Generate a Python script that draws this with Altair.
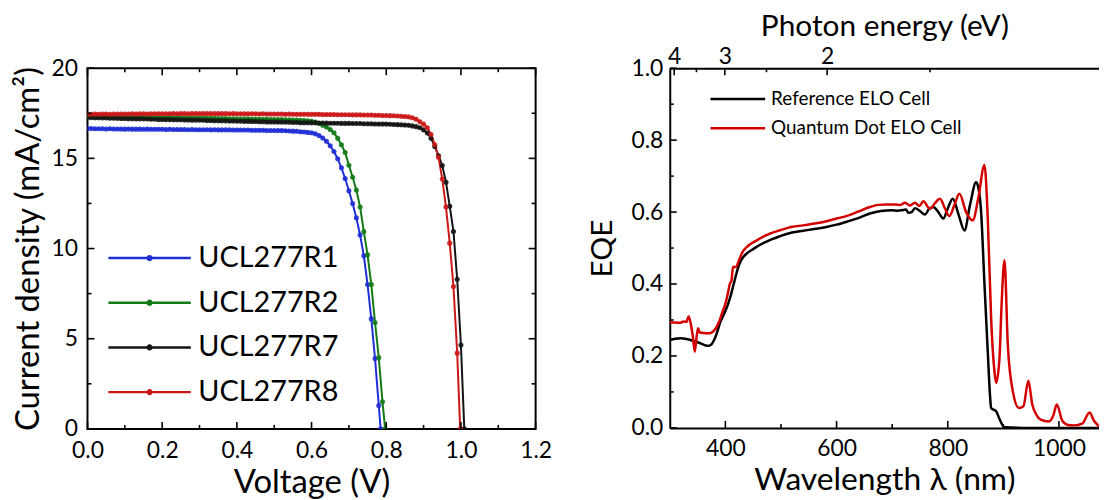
import altair as alt
import pandas as pd

FONT = "Lato"

# ---------------- J-V data (left panel) ----------------
VOLTAGE = [0.00, 0.01, 0.02, 0.03, 0.04, 0.05, 0.06, 0.07, 0.08, 0.09,
           0.10, 0.11, 0.12, 0.13, 0.14, 0.15, 0.16, 0.17, 0.18, 0.19,
           0.20, 0.21, 0.22, 0.23, 0.24, 0.25, 0.26, 0.27, 0.28, 0.29,
           0.30, 0.31, 0.32, 0.33, 0.34, 0.35, 0.36, 0.37, 0.38, 0.39,
           0.40, 0.41, 0.42, 0.43, 0.44, 0.45, 0.46, 0.47, 0.48, 0.49,
           0.50, 0.51, 0.52, 0.53, 0.54, 0.55, 0.56, 0.57, 0.58, 0.59,
           0.60, 0.61, 0.62, 0.63, 0.64, 0.65, 0.66, 0.67, 0.68, 0.69,
           0.70, 0.71, 0.72, 0.73, 0.74, 0.75, 0.76, 0.77, 0.78, 0.79,
           0.80, 0.81, 0.82, 0.83, 0.84, 0.85, 0.86, 0.87, 0.88, 0.89,
           0.90, 0.91, 0.92, 0.93, 0.94, 0.95, 0.96, 0.97, 0.98, 0.99,
           1.00]

J_R1 = [16.65, 16.65, 16.64, 16.64, 16.64, 16.63, 16.64, 16.63, 16.63, 16.63,
        16.62, 16.63, 16.62, 16.62, 16.62, 16.61, 16.62, 16.61, 16.61, 16.61,
        16.61, 16.60, 16.61, 16.60, 16.60, 16.60, 16.60, 16.59, 16.60, 16.59,
        16.59, 16.59, 16.59, 16.58, 16.59, 16.58, 16.58, 16.58, 16.58, 16.57,
        16.57, 16.57, 16.57, 16.57, 16.56, 16.56, 16.56, 16.56, 16.55, 16.55,
        16.55, 16.54, 16.54, 16.53, 16.52, 16.51, 16.50, 16.48, 16.46, 16.44,
        16.42, 16.36, 16.27, 16.13, 15.95, 15.70, 15.38, 14.98, 14.48, 13.88,
        13.20, 12.50, 11.70, 10.75, 9.60, 8.00, 6.10, 3.90, 1.30]

J_R2 = [17.33, 17.33, 17.32, 17.32, 17.32, 17.31, 17.31, 17.31, 17.30, 17.30,
        17.30, 17.29, 17.29, 17.29, 17.28, 17.28, 17.28, 17.27, 17.27, 17.27,
        17.26, 17.26, 17.26, 17.25, 17.25, 17.25, 17.24, 17.24, 17.24, 17.23,
        17.23, 17.23, 17.22, 17.22, 17.22, 17.21, 17.21, 17.21, 17.20, 17.20,
        17.20, 17.19, 17.19, 17.19, 17.18, 17.18, 17.17, 17.17, 17.17, 17.16,
        17.16, 17.15, 17.15, 17.14, 17.14, 17.13, 17.12, 17.11, 17.10, 17.08,
        17.06, 17.02, 16.93, 16.84, 16.74, 16.60, 16.42, 16.12, 15.75, 15.33,
        14.62, 13.95, 13.25, 12.30, 10.95, 9.65, 8.00, 5.90, 3.95, 1.50]

J_R7 = [17.26, 17.26, 17.25, 17.25, 17.24, 17.24, 17.23, 17.23, 17.22, 17.21,
        17.21, 17.20, 17.20, 17.19, 17.19, 17.18, 17.18, 17.17, 17.17, 17.16,
        17.16, 17.15, 17.15, 17.14, 17.14, 17.14, 17.13, 17.13, 17.12, 17.12,
        17.11, 17.11, 17.10, 17.10, 17.09, 17.09, 17.08, 17.08, 17.07, 17.07,
        17.06, 17.06, 17.05, 17.05, 17.04, 17.04, 17.03, 17.03, 17.02, 17.02,
        17.02, 17.01, 17.01, 17.00, 17.00, 16.99, 16.99, 16.98, 16.98, 16.98,
        16.97, 16.97, 16.96, 16.96, 16.96, 16.95, 16.95, 16.95, 16.94, 16.94,
        16.94, 16.93, 16.93, 16.93, 16.92, 16.92, 16.92, 16.91, 16.91, 16.90,
        16.90, 16.89, 16.88, 16.87, 16.86, 16.85, 16.83, 16.80, 16.76, 16.70,
        16.58, 16.40, 16.12, 15.66, 15.15, 14.60, 13.68, 12.35, 10.95, 8.30,
        4.65]

J_R8 = [17.45, 17.45, 17.46, 17.45, 17.46, 17.46, 17.45, 17.46, 17.46, 17.46,
        17.46, 17.46, 17.47, 17.46, 17.47, 17.47, 17.46, 17.47, 17.47, 17.47,
        17.47, 17.47, 17.47, 17.48, 17.47, 17.48, 17.48, 17.47, 17.48, 17.48,
        17.48, 17.48, 17.48, 17.48, 17.48, 17.48, 17.48, 17.48, 17.47, 17.48,
        17.47, 17.47, 17.47, 17.47, 17.47, 17.47, 17.46, 17.47, 17.46, 17.46,
        17.46, 17.46, 17.46, 17.45, 17.46, 17.45, 17.45, 17.45, 17.45, 17.44,
        17.44, 17.44, 17.44, 17.43, 17.43, 17.43, 17.43, 17.42, 17.42, 17.42,
        17.42, 17.41, 17.41, 17.41, 17.40, 17.40, 17.40, 17.39, 17.39, 17.38,
        17.38, 17.37, 17.36, 17.35, 17.34, 17.32, 17.30, 17.25, 17.17, 17.03,
        16.90, 16.70, 16.32, 15.76, 15.06, 13.85, 12.30, 10.30, 7.90, 4.20]

SERIES = ["UCL277R1", "UCL277R2", "UCL277R7", "UCL277R8"]
SERIES_J = [J_R1, J_R2, J_R7, J_R8]
VOC = [0.785, 0.797, 1.009, 0.998]
SERIES_COLORS = ["#1f2fd6", "#137a16", "#141414", "#cc1818"]

# ---------------- EQE data (right panel) ----------------
WL_REF = [300, 310, 320, 330, 340, 350, 360, 365, 370, 375, 380, 385, 390, 395, 400,
          405, 410, 415, 420, 425, 430, 440, 450, 460, 470, 480, 490, 500, 520, 540,
          560, 580, 600, 620, 640, 660, 680, 700, 710, 717, 725, 729, 735, 741, 750,
          759, 766, 774, 783, 792, 800, 809, 820, 830, 840, 851, 856, 860, 866, 872,
          876, 878, 887, 893, 902, 950, 1000, 1072]
EQE_REF = [0.245, 0.248, 0.249, 0.247, 0.243, 0.238, 0.232, 0.229, 0.228, 0.232, 0.245, 0.265, 0.290, 0.308, 0.325,
           0.345, 0.370, 0.400, 0.430, 0.455, 0.470, 0.487, 0.497, 0.507, 0.515, 0.522, 0.528, 0.534, 0.543, 0.548,
           0.553, 0.558, 0.565, 0.574, 0.584, 0.596, 0.603, 0.605, 0.604, 0.605, 0.607, 0.598, 0.600, 0.611, 0.603,
           0.593, 0.608, 0.614, 0.600, 0.582, 0.610, 0.637, 0.590, 0.549, 0.620, 0.683, 0.660, 0.600, 0.400, 0.210,
           0.090, 0.055, 0.046, 0.025, 0.002, 0.0, 0.0, 0.0]

WL_QD = [300, 310, 318, 325, 330, 334, 337, 341, 345, 348, 351, 354, 360, 365, 372,
         378, 383, 390, 395, 400, 404, 408, 411, 414, 419, 425, 431, 440, 455, 470,
         480, 500, 520, 540, 560, 580, 600, 620, 640, 660, 675, 690, 705, 715, 723,
         732, 741, 749, 756, 768, 777, 786, 795, 803, 812, 821, 833, 845, 855, 866,
         872, 878, 884, 887, 893, 897, 902, 908, 917, 928, 936, 945, 952, 960, 967,
         982, 990, 996, 1006, 1017, 1027, 1042, 1055, 1063, 1069, 1072]
EQE_QD = [0.293, 0.293, 0.292, 0.296, 0.295, 0.310, 0.295, 0.260, 0.212, 0.250, 0.277, 0.265, 0.264, 0.263, 0.263,
          0.268, 0.277, 0.300, 0.323, 0.345, 0.370, 0.400, 0.410, 0.448, 0.447, 0.468, 0.489, 0.505, 0.520, 0.533,
          0.540, 0.550, 0.559, 0.563, 0.568, 0.574, 0.582, 0.590, 0.602, 0.614, 0.620, 0.621, 0.621, 0.620, 0.626,
          0.618, 0.626, 0.617, 0.630, 0.609, 0.625, 0.637, 0.610, 0.589, 0.620, 0.651, 0.600, 0.577, 0.640, 0.731,
          0.580, 0.305, 0.157, 0.125, 0.194, 0.350, 0.466, 0.231, 0.102, 0.055, 0.060, 0.131, 0.065, 0.035, 0.023,
          0.018, 0.035, 0.065, 0.020, 0.008, 0.007, 0.012, 0.043, 0.020, 0.009, 0.004]

CELLS = ["Reference ELO Cell", "Quantum Dot ELO Cell"]
CELL_COLORS = ["#000000", "#d40000"]

# axis tick values
JV_X_MAJOR = [0.0, 0.2, 0.4, 0.6, 0.8, 1.0, 1.2]
JV_X_MINOR = [0.1, 0.3, 0.5, 0.7, 0.9, 1.1]
JV_Y_MAJOR = [0, 5, 10, 15, 20]
JV_Y_MINOR = [2.5, 7.5, 12.5, 17.5]
WL_MAJOR = [400, 600, 800, 1000]
WL_MINOR = [500, 700, 900]
EQE_MAJOR = [0.0, 0.2, 0.4, 0.6, 0.8, 1.0]
EQE_MINOR = [0.1, 0.3, 0.5, 0.7, 0.9]
ENERGY_LABELS = ["4", "3", "2"]
ENERGY_MAJOR_NM = [308, 399, 583]
ENERGY_MINOR_NM = [348, 474, 768]

# ---------------- build tables ----------------
rows = []
for name, js, voc in zip(SERIES, SERIES_J, VOC):
    for v, j in zip(VOLTAGE, js):
        rows.append({"V": v, "J": j, "series": name})
    rows.append({"V": voc, "J": 0.0, "series": name})
jv = pd.DataFrame(rows)

erows = []
for name, wls, vals in zip(CELLS, [WL_REF, WL_QD], [EQE_REF, EQE_QD]):
    for w, e in zip(wls, vals):
        erows.append({"wl": w, "eqe": e, "cell": name})
eqe = pd.DataFrame(erows)

LW, LH = 451, 363
RW, RH = 432, 362
MAJ, MIN = 7, 4
TICK_W = 1.6
TICK_FS = 23


def xticks(values, length, side, h):
    d = pd.DataFrame({"pos": values})
    y, y2 = (h, h - length) if side == "bottom" else (0, length)
    return alt.Chart(d).mark_rule(color="black", strokeWidth=TICK_W).encode(
        x=alt.X("pos:Q"), y=alt.value(y), y2=alt.value(y2))


def yticks(values, length, side, w):
    d = pd.DataFrame({"pos": values})
    x, x2 = (0, length) if side == "left" else (w, w - length)
    return alt.Chart(d).mark_rule(color="black", strokeWidth=TICK_W).encode(
        y=alt.Y("pos:Q"), x=alt.value(x), x2=alt.value(x2))


# legend symbol: a line twice as wide as the symbol box, with a dot in the middle
LEG_PATH = "M-2,0L2,0M-0.09,0A0.09,0.09,0,1,1,0.09,0A0.09,0.09,0,1,1,-0.09,0Z"
LEG_LINE = "M-2,0L2,0"

jv_x = alt.X("V:Q", scale=alt.Scale(domain=[0, 1.2], nice=False, zero=False),
             axis=alt.Axis(values=JV_X_MAJOR, format=".1f", ticks=False, domain=False,
                           title="Voltage (V)", labelFontSize=TICK_FS, titleFontSize=33,
                           labelPadding=11, titlePadding=4))
jv_y = alt.Y("J:Q", scale=alt.Scale(domain=[0, 20], nice=False, zero=False),
             axis=alt.Axis(values=JV_Y_MAJOR, ticks=False, domain=False,
                           title="Current density (mA/cm²)", labelFontSize=TICK_FS, titleFontSize=33,
                           labelPadding=10, titlePadding=6))
jv_color = alt.Color("series:N", scale=alt.Scale(domain=SERIES, range=SERIES_COLORS),
                     legend=alt.Legend(title=None, orient="none", legendX=40.5, legendY=169,
                                       symbolType=LEG_PATH, symbolSize=1722, symbolStrokeWidth=2.5,
                                       labelFontSize=29, labelOffset=27, rowPadding=8, padding=0,
                                       labelLimit=400, labelFont=FONT, labelColor="black"))

jv_lines = alt.Chart(jv).mark_line(strokeWidth=2, clip=True).encode(
    x=jv_x, y=jv_y, color=jv_color, detail="series:N")
jv_points = alt.Chart(jv).mark_circle(size=26, opacity=0.9, clip=True).encode(
    x="V:Q", y="J:Q", color=alt.Color("series:N", legend=None))

left = alt.layer(
    jv_lines, jv_points,
    xticks(JV_X_MAJOR, MAJ, "bottom", LH), xticks(JV_X_MINOR, MIN, "bottom", LH),
    xticks(JV_X_MAJOR, MAJ, "top", LH), xticks(JV_X_MINOR, MIN, "top", LH),
    yticks(JV_Y_MAJOR, MAJ, "left", LW), yticks(JV_Y_MINOR, MIN, "left", LW),
    yticks(JV_Y_MAJOR, MAJ, "right", LW), yticks(JV_Y_MINOR, MIN, "right", LW),
).properties(width=LW, height=LH,
             view=alt.ViewBackground(stroke="black", strokeWidth=2))

energy_expr = " : ".join(f"datum.value == {nm} ? '{lab}'" for nm, lab in zip(ENERGY_MAJOR_NM, ENERGY_LABELS)) + " : ''"

eqe_x = alt.X("wl:Q", scale=alt.Scale(domain=[300, 1072], nice=False, zero=False),
              axis=alt.Axis(orient="bottom", values=WL_MAJOR, format="d", ticks=False, domain=True,
                            title="Wavelength λ (nm)",
                            labelFontSize=TICK_FS, titleFontSize=32, labelPadding=10, titlePadding=4))
eqe_y = alt.Y("eqe:Q", scale=alt.Scale(domain=[0, 1], nice=False, zero=False),
              axis=alt.Axis(values=EQE_MAJOR, format=".1f", ticks=False, domain=True, title="EQE",
                            labelFontSize=TICK_FS, titleFontSize=30, labelPadding=7, titlePadding=14))
eqe_color = alt.Color("cell:N", scale=alt.Scale(domain=CELLS, range=CELL_COLORS),
                      legend=alt.Legend(title=None, orient="none", legendX=53.5, legendY=16,
                                        symbolType=LEG_LINE, symbolSize=756, symbolStrokeWidth=2.5,
                                        labelFontSize=19, labelOffset=18.5, rowPadding=4.5, padding=0,
                                        labelLimit=400, labelFont=FONT, labelColor="black"))

eqe_lines = alt.Chart(eqe).mark_line(strokeWidth=2.5, clip=True, interpolate="monotone").encode(
    x=eqe_x, y=eqe_y, color=eqe_color, detail="cell:N")

top_axis = alt.Chart(pd.DataFrame({"pos": ENERGY_MAJOR_NM})).mark_rule(
    color="black", strokeWidth=TICK_W).encode(
    x=alt.X("pos:Q", axis=alt.Axis(orient="top", values=ENERGY_MAJOR_NM, labelExpr=energy_expr,
                                   ticks=False, domain=True, title="Photon energy (eV)",
                                   labelFontSize=TICK_FS, titleFontSize=30, labelPadding=0,
                                   titlePadding=4)),
    y=alt.value(0), y2=alt.value(MAJ))

right_inner = alt.layer(
    eqe_lines,
    xticks(ENERGY_MINOR_NM, MIN, "top", RH),
    xticks(WL_MAJOR, MAJ, "bottom", RH), xticks(WL_MINOR, MIN, "bottom", RH),
    yticks(EQE_MAJOR, MAJ, "left", RW), yticks(EQE_MINOR, MIN, "left", RW),
)
right = alt.layer(right_inner, top_axis).properties(width=RW, height=RH)

chart = alt.hconcat(left, right, spacing=33).resolve_scale(
    x="independent", y="independent", color="independent"
).properties(
    padding={"left": 3, "top": 2, "right": 0, "bottom": 0}
).configure_view(stroke=None).configure_axis(
    labelFont=FONT, titleFont=FONT, labelColor="black", titleColor="black",
    grid=False, domainColor="black", domainWidth=2, titleFontWeight="normal",
    labelFlush=False, labelOverlap=False
).configure_legend(labelFont=FONT)

chart.save("out.html", embed_options={"renderer": "svg", "actions": False})
